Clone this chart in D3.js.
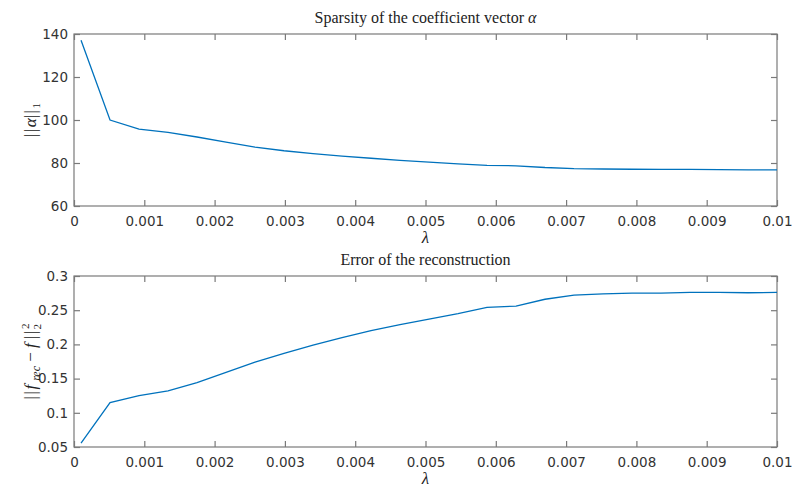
<!DOCTYPE html>
<html>
<head>
<meta charset="utf-8">
<script src="https://cdn.jsdelivr.net/npm/d3@7"></script>
<style>
  body { margin: 0; background: #fff; }
  svg { display: block; }
  .tick text { font-family: "DejaVu Sans", sans-serif; font-size: 13.5px; fill: #333; }
  .title, .label { font-family: "Liberation Serif", "DejaVu Serif", serif; fill: #222; }
</style>
</head>
<body>
<svg id="chart" width="794" height="491"></svg>
<script>
// Regularisation parameter values (25 evenly spaced from 1e-4 to 1e-2)
const lambdas = d3.range(25).map(k => 0.0001 + k * 0.0004125);

// L1 norm of the coefficient vector for each lambda
const sparsity = [137.1, 100.0, 95.8, 94.2, 92.1, 89.7, 87.4, 85.7, 84.4, 83.2,
                  82.2, 81.2, 80.4, 79.6, 78.9, 78.7, 77.9, 77.4, 77.2, 77.1,
                  77.0, 77.0, 76.9, 76.8, 76.8];

// Squared L2 reconstruction error for each lambda
const recError = [0.0558, 0.115, 0.125, 0.132, 0.144, 0.159, 0.174, 0.187, 0.199, 0.210,
                  0.220, 0.229, 0.237, 0.245, 0.254, 0.256, 0.266, 0.272, 0.274, 0.275,
                  0.275, 0.276, 0.276, 0.2755, 0.276];

const xTicks = [0, 0.001, 0.002, 0.003, 0.004, 0.005, 0.006, 0.007, 0.008, 0.009, 0.01];
const yTicksTop = [60, 80, 100, 120, 140];
const yTicksBottom = [0.05, 0.1, 0.15, 0.2, 0.25, 0.3];

const svg = d3.select("#chart");
const left = 74, right = 777;
const axisColor = "#7a7a7a";
const lineColor = "#0072BD";

const x = d3.scaleLinear().domain([0, 0.01]).range([left, right]);

function panel(cfg) {
  const y = d3.scaleLinear().domain(cfg.yDomain).range([cfg.bottom, cfg.top]);
  const g = svg.append("g");
  const tickLen = 6;

  // frame
  g.append("rect")
    .attr("x", left).attr("y", cfg.top)
    .attr("width", right - left).attr("height", cfg.bottom - cfg.top)
    .attr("fill", "none").attr("stroke", axisColor).attr("stroke-width", 1.2);

  const fmtX = d => d === 0 ? "0" : String(+d.toFixed(3));
  const xb = g.append("g").attr("transform", `translate(0,${cfg.bottom})`)
    .call(d3.axisBottom(x).tickValues(xTicks).tickSizeInner(-tickLen).tickSizeOuter(0).tickPadding(10).tickFormat(fmtX));
  const xt = g.append("g").attr("transform", `translate(0,${cfg.top})`)
    .call(d3.axisTop(x).tickValues(xTicks).tickSizeInner(-tickLen).tickSizeOuter(0).tickFormat(""));
  const yl = g.append("g").attr("transform", `translate(${left},0)`)
    .call(d3.axisLeft(y).tickValues(cfg.yTicks).tickSizeInner(-tickLen).tickSizeOuter(0).tickPadding(6).tickFormat(cfg.yFmt));
  const yr = g.append("g").attr("transform", `translate(${right},0)`)
    .call(d3.axisRight(y).tickValues(cfg.yTicks).tickSizeInner(-tickLen).tickSizeOuter(0).tickFormat(""));
  [xb, xt, yl, yr].forEach(a => {
    a.select(".domain").remove();
    a.selectAll(".tick line").attr("stroke", axisColor).attr("stroke-width", 1.2);
  });

  // data line
  const line = d3.line().x((d, i) => x(lambdas[i])).y(d => y(d));
  g.append("path").datum(cfg.values)
    .attr("d", line).attr("fill", "none")
    .attr("stroke", lineColor).attr("stroke-width", 1.3);

  // title
  const t = g.append("text").attr("class", "title")
    .attr("x", (left + right) / 2).attr("y", cfg.top - 11)
    .attr("text-anchor", "middle").attr("font-size", 16);
  cfg.title(t);

  // x label
  g.append("text").attr("class", "label")
    .attr("x", (left + right) / 2).attr("y", cfg.bottom + 37)
    .attr("text-anchor", "middle").attr("font-size", 17).attr("font-style", "italic")
    .text("λ");

  // y label
  const yl2 = g.append("text").attr("class", "label")
    .attr("transform", `translate(${cfg.ylabX},${(cfg.top + cfg.bottom) / 2}) rotate(-90)`)
    .attr("text-anchor", "middle").attr("font-size", 17);
  cfg.ylabel(yl2);
}

panel({
  top: 34, bottom: 206,
  yDomain: [60, 140], yTicks: yTicksTop, yFmt: d3.format("d"),
  values: sparsity, ylabX: 36,
  title: t => {
    t.append("tspan").text("Sparsity of the coefficient vector ");
    t.append("tspan").attr("font-style", "italic").text("α");
  },
  ylabel: t => {
    t.append("tspan").attr("letter-spacing", 1.5).text("||");
    t.append("tspan").attr("font-style", "italic").text("α");
    t.append("tspan").attr("letter-spacing", 1.5).text("||");
    t.append("tspan").attr("font-size", 11).attr("dy", 4).text("1");
  }
});

panel({
  top: 276, bottom: 447,
  yDomain: [0.05, 0.3], yTicks: yTicksBottom, yFmt: d => String(+d.toFixed(2)),
  values: recError, ylabX: 36,
  title: t => t.text("Error of the reconstruction"),
  ylabel: t => {
    t.append("tspan").attr("letter-spacing", 1.5).text("||");
    t.append("tspan").attr("font-style", "italic").text("f");
    t.append("tspan").attr("font-style", "italic").attr("font-size", 12).attr("dx", 4).attr("dy", 4).text("rec");
    t.append("tspan").attr("dy", -4).text(" − ");
    t.append("tspan").attr("font-style", "italic").text("f ");
    t.append("tspan").attr("letter-spacing", 1.5).text("||");
    t.append("tspan").attr("font-size", 11).attr("dy", -7).text("2");
    t.append("tspan").attr("font-size", 11).attr("dx", -6).attr("dy", 12).text("2");
  }
});
</script>
</body>
</html>
